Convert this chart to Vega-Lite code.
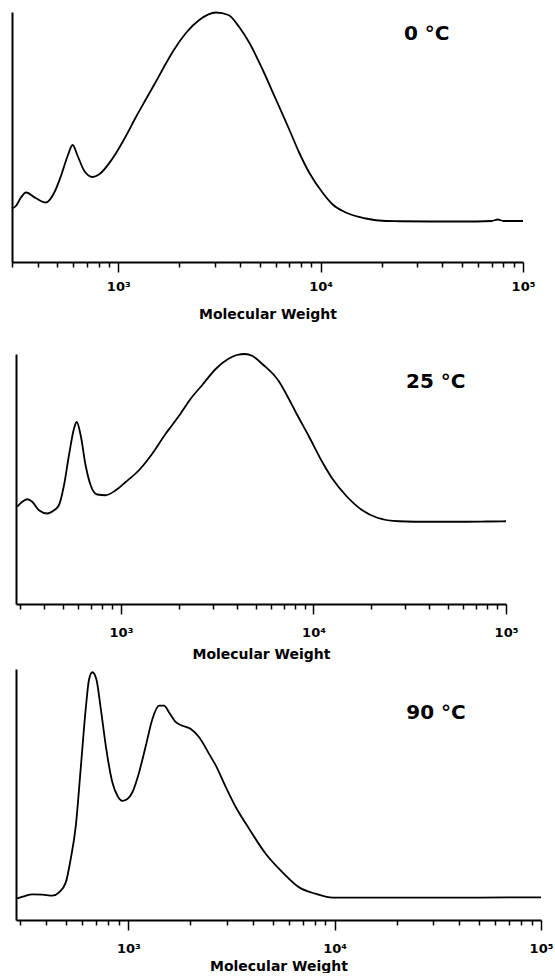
{
  "$schema": "https://vega.github.io/schema/vega-lite/v6.json",
  "background": "white",
  "padding": {"left": 8, "top": 8, "right": 0, "bottom": 0},
  "config": {
    "view": {"stroke": null},
    "axisX": {
      "values": [300,400,500,600,700,800,900,1000,2000,3000,4000,5000,6000,7000,8000,9000,10000,20000,30000,40000,50000,60000,70000,80000,90000,100000],
      "labelExpr": "datum.value == 1000 ? '10³' : datum.value == 10000 ? '10⁴' : datum.value == 100000 ? '10⁵' : ''",
      "grid": false,
      "domainColor": "black",
      "domainWidth": 2,
      "tickColor": "black",
      "tickWidth": 1.5,
      "tickSize": {"condition": {"test": "datum.value == 1000 || datum.value == 10000 || datum.value == 100000", "value": 10}, "value": 5},
      "labelFont": "DejaVu Sans",
      "labelFontWeight": "bold",
      "labelFontSize": 13,
      "labelColor": "black",
      "labelPadding": 8,
      "labelOverlap": false,
      "labelFlush": false,
      "labelBound": false,
      "titleFont": "DejaVu Sans",
      "titleFontWeight": "bold",
      "titleFontSize": 14,
      "titleColor": "black",
      "titlePadding": 4
    },
    "axisY": {
      "title": null,
      "labels": false,
      "ticks": false,
      "grid": false,
      "domainColor": "black",
      "domainWidth": 2
    },
    "line": {"color": "black", "strokeWidth": 1.8, "interpolate": "monotone"},
    "text": {"font": "DejaVu Sans", "fontWeight": "bold", "fontSize": 20, "align": "left", "baseline": "middle", "color": "black"}
  },
  "datasets": {
    "t0": [
      {"mw": 298.5, "signal": 21.4}, {"mw": 312, "signal": 22.4}, {"mw": 330.6, "signal": 25.8}, {"mw": 350, "signal": 27.8},
      {"mw": 392, "signal": 25.5}, {"mw": 439, "signal": 23.8}, {"mw": 483, "signal": 27.8}, {"mw": 521, "signal": 34.4},
      {"mw": 562, "signal": 42.4}, {"mw": 595, "signal": 46.8}, {"mw": 630, "signal": 42.4}, {"mw": 680, "signal": 36.4},
      {"mw": 747, "signal": 34.0}, {"mw": 806, "signal": 35.1}, {"mw": 937, "signal": 41.4}, {"mw": 1091, "signal": 50.4},
      {"mw": 1223, "signal": 58.0}, {"mw": 1370, "signal": 65.1}, {"mw": 1536, "signal": 72.2}, {"mw": 1720, "signal": 79.4},
      {"mw": 1855, "signal": 84.0}, {"mw": 2160, "signal": 91.6}, {"mw": 2512, "signal": 96.8}, {"mw": 3038, "signal": 99.8},
      {"mw": 3500, "signal": 98.8}, {"mw": 3958, "signal": 94.0}, {"mw": 4436, "signal": 87.8}, {"mw": 5159, "signal": 77.1},
      {"mw": 6008, "signal": 65.1}, {"mw": 6988, "signal": 53.1}, {"mw": 7830, "signal": 43.8}, {"mw": 8774, "signal": 35.8},
      {"mw": 10210, "signal": 27.8}, {"mw": 11440, "signal": 23.1}, {"mw": 13320, "signal": 19.8}, {"mw": 16720, "signal": 17.4},
      {"mw": 20990, "signal": 16.4}, {"mw": 24420, "signal": 16.3}, {"mw": 35000, "signal": 16.2}, {"mw": 50000, "signal": 16.2},
      {"mw": 70000, "signal": 16.4}, {"mw": 75000, "signal": 17.0}, {"mw": 80000, "signal": 16.4}, {"mw": 100000, "signal": 16.4}
    ],
    "t25": [
      {"mw": 289, "signal": 38.9}, {"mw": 307, "signal": 40.9}, {"mw": 326, "signal": 41.9}, {"mw": 346, "signal": 40.9},
      {"mw": 375, "signal": 37.5}, {"mw": 414, "signal": 36.2}, {"mw": 449, "signal": 37.5}, {"mw": 476, "signal": 39.5},
      {"mw": 506, "signal": 47.5}, {"mw": 537, "signal": 59.5}, {"mw": 570, "signal": 70.1}, {"mw": 589, "signal": 72.8},
      {"mw": 618, "signal": 67.4}, {"mw": 655, "signal": 55.5}, {"mw": 696, "signal": 47.5}, {"mw": 753, "signal": 43.8},
      {"mw": 832, "signal": 43.5}, {"mw": 939, "signal": 45.5}, {"mw": 1058, "signal": 48.8}, {"mw": 1240, "signal": 53.5},
      {"mw": 1454, "signal": 60.1}, {"mw": 1707, "signal": 68.1}, {"mw": 1847, "signal": 71.6}, {"mw": 2042, "signal": 76.2},
      {"mw": 2302, "signal": 82.1}, {"mw": 2644, "signal": 87.6}, {"mw": 3105, "signal": 94.0}, {"mw": 3600, "signal": 98.0},
      {"mw": 4000, "signal": 99.6}, {"mw": 4400, "signal": 100.0}, {"mw": 4800, "signal": 99.3}, {"mw": 5420, "signal": 96.0},
      {"mw": 6620, "signal": 89.0}, {"mw": 7300, "signal": 83.3}, {"mw": 8080, "signal": 76.8}, {"mw": 9475, "signal": 67.0},
      {"mw": 11110, "signal": 56.8}, {"mw": 12520, "signal": 50.2}, {"mw": 14700, "signal": 43.5}, {"mw": 17930, "signal": 37.5},
      {"mw": 21460, "signal": 34.5}, {"mw": 27810, "signal": 33.1}, {"mw": 40000, "signal": 32.9}, {"mw": 60000, "signal": 32.9},
      {"mw": 80000, "signal": 33.0}, {"mw": 100000, "signal": 33.1}
    ],
    "t90": [
      {"mw": 290, "signal": 8.6}, {"mw": 312, "signal": 9.4}, {"mw": 343, "signal": 10.2}, {"mw": 383, "signal": 10.1},
      {"mw": 429, "signal": 9.7}, {"mw": 462, "signal": 11.0}, {"mw": 498, "signal": 15.0}, {"mw": 526, "signal": 24.3},
      {"mw": 557, "signal": 37.6}, {"mw": 588, "signal": 60.2}, {"mw": 622, "signal": 84.1}, {"mw": 646, "signal": 96.0},
      {"mw": 670, "signal": 98.7}, {"mw": 700, "signal": 96.0}, {"mw": 736, "signal": 84.1}, {"mw": 778, "signal": 69.4},
      {"mw": 837, "signal": 54.9}, {"mw": 886, "signal": 49.5}, {"mw": 936, "signal": 47.5}, {"mw": 990, "signal": 48.2},
      {"mw": 1047, "signal": 50.9}, {"mw": 1128, "signal": 58.8}, {"mw": 1216, "signal": 69.4}, {"mw": 1309, "signal": 80.1},
      {"mw": 1411, "signal": 85.4}, {"mw": 1491, "signal": 85.4}, {"mw": 1577, "signal": 82.7}, {"mw": 1700, "signal": 78.8},
      {"mw": 1830, "signal": 77.4}, {"mw": 2010, "signal": 76.1}, {"mw": 2205, "signal": 72.8}, {"mw": 2466, "signal": 66.1},
      {"mw": 2657, "signal": 61.5}, {"mw": 2970, "signal": 52.9}, {"mw": 3321, "signal": 44.9}, {"mw": 3854, "signal": 36.3},
      {"mw": 4644, "signal": 26.3}, {"mw": 5590, "signal": 19.0}, {"mw": 6734, "signal": 13.0}, {"mw": 8119, "signal": 10.4},
      {"mw": 9767, "signal": 8.9}, {"mw": 11770, "signal": 8.9}, {"mw": 20570, "signal": 8.9}, {"mw": 40000, "signal": 8.9},
      {"mw": 70000, "signal": 9.0}, {"mw": 100000, "signal": 9.0}
    ]
  },
  "spacing": 29,
  "vconcat": [
    {
      "width": 511,
      "height": 250,
      "layer": [
        {
          "data": {"name": "t0"},
          "mark": "line",
          "encoding": {
            "x": {"field": "mw", "type": "quantitative", "title": "Molecular Weight", "scale": {"type": "log", "domain": [298.5, 100000], "nice": false, "range": [-4, 507]}, "axis": {"titlePadding": 14}},
            "y": {"field": "signal", "type": "quantitative", "scale": {"domain": [0, 100], "nice": false}, "axis": {"offset": 4}}
          }
        },
        {
          "data": {"values": [{"label": "0 °C"}]},
          "mark": "text",
          "encoding": {
            "x": {"datum": 25800},
            "y": {"datum": 91.3},
            "text": {"field": "label"}
          }
        }
      ]
    },
    {
      "spacing": 7,
      "vconcat": [
        {
          "width": 490,
          "height": 250,
          "layer": [
            {
              "data": {"name": "t25"},
              "mark": "line",
              "encoding": {
                "x": {"field": "mw", "type": "quantitative", "title": "Molecular Weight", "scale": {"type": "log", "domain": [285, 100000], "nice": false}, "axis": {"labelPadding": 12, "titlePadding": 8}},
                "y": {"field": "signal", "type": "quantitative", "scale": {"domain": [0, 100], "nice": false}}
              }
            },
            {
              "data": {"values": [{"label": "25 °C"}]},
              "mark": "text",
              "encoding": {
                "x": {"datum": 30230},
                "y": {"datum": 88.9},
                "text": {"field": "label"}
              }
            }
          ]
        },
        {
          "width": 525,
          "height": 251,
          "layer": [
            {
              "data": {"name": "t90"},
              "mark": "line",
              "encoding": {
                "x": {"field": "mw", "type": "quantitative", "title": "Molecular Weight", "scale": {"type": "log", "domain": [285.7, 100000], "nice": false}, "axis": {"labelPadding": 12, "titlePadding": 4}},
                "y": {"field": "signal", "type": "quantitative", "scale": {"domain": [0, 100], "nice": false}}
              }
            },
            {
              "data": {"values": [{"label": "90 °C"}]},
              "mark": "text",
              "encoding": {
                "x": {"datum": 22250},
                "y": {"datum": 82.5},
                "text": {"field": "label"}
              }
            }
          ]
        }
      ]
    }
  ]
}
